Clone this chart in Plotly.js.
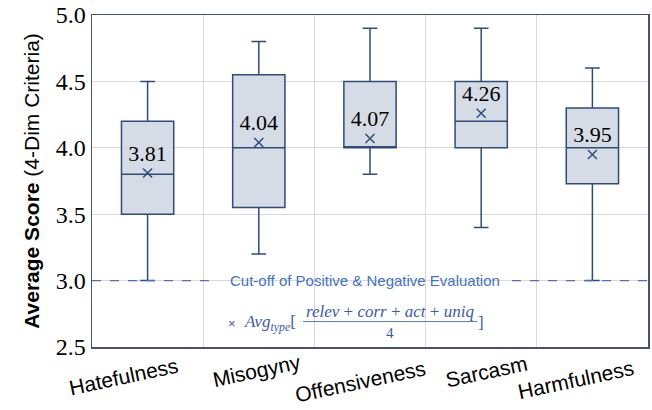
<!DOCTYPE html>
<html>
<head>
<meta charset="utf-8">
<script src="https://cdn.plot.ly/plotly-3.0.1.min.js"></script>
<style>html,body{margin:0;padding:0;background:#fff;}</style>
</head>
<body>
<div id="chart" style="width:652px;height:410px;"></div>
<script>
// ---- data ----
const categories = ["Hatefulness", "Misogyny", "Offensiveness", "Sarcasm", "Harmfulness"];
const lowerWhisker = [3.0, 3.2, 3.8, 3.4, 3.0];
const q1Values = [3.5, 3.55, 4.0, 4.0, 3.73];
const medianValues = [3.8, 4.0, 4.0, 4.2, 4.0];
const q3Values = [4.2, 4.55, 4.5, 4.5, 4.3];
const upperWhisker = [4.5, 4.8, 4.9, 4.9, 4.6];
const meanValues = [3.81, 4.04, 4.07, 4.26, 3.95];
const cutoffValue = 3.0;
const yTicks = [2.5, 3.0, 3.5, 4.0, 4.5, 5.0];

// ---- layout helpers (pixel -> paper) ----
const L = 92, R = 648, T = 15, B = 347;
const px = v => (v - L) / (R - L);
const py = v => (B - v) / (B - T);

const navy = "#2F4B7C";
const blue = "#4472C4";
const formulaColor = "#3A5BA8";
const SERIF = "Liberation Serif";
const SANS = "Liberation Sans";

const boxTrace = {
  type: "box",
  x: categories,
  q1: q1Values,
  median: medianValues,
  q3: q3Values,
  lowerfence: lowerWhisker,
  upperfence: upperWhisker,
  boxpoints: false,
  width: 0.47,
  whiskerwidth: 0.28,
  fillcolor: "#D6DCE5",
  line: {color: navy, width: 1.5},
  hoverinfo: "skip",
  showlegend: false
};

const meanTrace = {
  type: "scatter",
  mode: "markers+text",
  x: categories,
  y: meanValues,
  text: meanValues.map(v => v.toFixed(2)),
  textposition: "top center",
  textfont: {family: SERIF, size: 22, color: "#000"},
  marker: {symbol: "x-thin", size: 9, line: {color: navy, width: 1.5}, color: navy},
  showlegend: false,
  hoverinfo: "skip"
};

const xLabelPos = [
  {dx: -24, y: 376}, {dx: -2, y: 370}, {dx: -10, y: 381}, {dx: 5, y: 371}, {dx: -16, y: 380}
];

const annotations = categories.map((c, i) => ({
  x: c, xref: "x", y: py(xLabelPos[i].y), yref: "paper",
  xshift: xLabelPos[i].dx,
  text: c, showarrow: false, textangle: -12,
  xanchor: "center", yanchor: "middle",
  font: {family: SANS, size: 21, color: "#000"}
}));

annotations.push({
  x: px(365), xref: "paper", y: cutoffValue, yref: "y",
  text: "Cut-off of Positive &amp; Negative Evaluation",
  showarrow: false, xanchor: "center", yanchor: "middle",
  font: {family: SANS, size: 15, color: blue}
});

annotations.push(
  {x: px(232), xref: "paper", y: py(323), yref: "paper", text: "×", showarrow: false,
   xanchor: "center", yanchor: "middle", font: {family: SANS, size: 13, color: formulaColor}},
  {x: px(242), xref: "paper", y: py(323), yref: "paper", text: "<i>Avg</i><sub><i>type</i></sub>[", showarrow: false,
   xanchor: "left", yanchor: "middle", font: {family: SERIF, size: 17, color: formulaColor}},
  {x: px(390), xref: "paper", y: py(311), yref: "paper", text: "<i>relev</i> + <i>corr</i> + <i>act</i> + <i>uniq</i>", showarrow: false,
   xanchor: "center", yanchor: "middle", font: {family: SERIF, size: 17, color: formulaColor}},
  {x: px(390), xref: "paper", y: py(333), yref: "paper", text: "4", showarrow: false,
   xanchor: "center", yanchor: "middle", font: {family: SERIF, size: 15, color: formulaColor}},
  {x: px(476), xref: "paper", y: py(322), yref: "paper", text: "]", showarrow: false,
   xanchor: "left", yanchor: "middle", font: {family: SERIF, size: 17, color: formulaColor}}
);

const shapes = [
  {type: "line", xref: "paper", yref: "y", x0: 0, x1: px(217), y0: cutoffValue, y1: cutoffValue,
   line: {color: blue, width: 1.3, dash: "dash"}},
  {type: "line", xref: "paper", yref: "y", x0: px(512), x1: 1, y0: cutoffValue, y1: cutoffValue,
   line: {color: blue, width: 1.3, dash: "dash"}},
  {type: "line", xref: "paper", yref: "paper", x0: px(303), x1: px(477), y0: py(321.5), y1: py(321.5),
   line: {color: formulaColor, width: 0.8}}
];

const layout = {
  width: 652, height: 410,
  margin: {l: L, r: 652 - R, t: T, b: 410 - B},
  paper_bgcolor: "#fff", plot_bgcolor: "#fff",
  showlegend: false,
  xaxis: {
    type: "category",
    categoryorder: "array", categoryarray: categories,
    tickson: "boundaries",
    showticklabels: false,
    ticks: "",
    showgrid: true, gridcolor: "#D9D9D9", gridwidth: 1,
    showline: true, mirror: true, linecolor: "#44546A", linewidth: 1.5,
    zeroline: false,
    range: [-0.5, 4.5]
  },
  yaxis: {
    range: [2.5, 5.0],
    tickvals: yTicks,
    ticktext: yTicks.map(v => v.toFixed(1)),
    ticks: "",
    tickfont: {family: SERIF, size: 24, color: "#000"},
    showgrid: true, gridcolor: "#D9D9D9", gridwidth: 1,
    showline: true, mirror: true, linecolor: "#44546A", linewidth: 1.5,
    zeroline: false,
    title: {
      text: "<b>Average Score</b> (4-Dim Criteria)",
      font: {family: SANS, size: 21, color: "#000"},
      standoff: 10
    }
  },
  annotations: annotations,
  shapes: shapes
};

Plotly.newPlot("chart", [boxTrace, meanTrace], layout, {displayModeBar: false, staticPlot: true});
</script>
</body>
</html>
